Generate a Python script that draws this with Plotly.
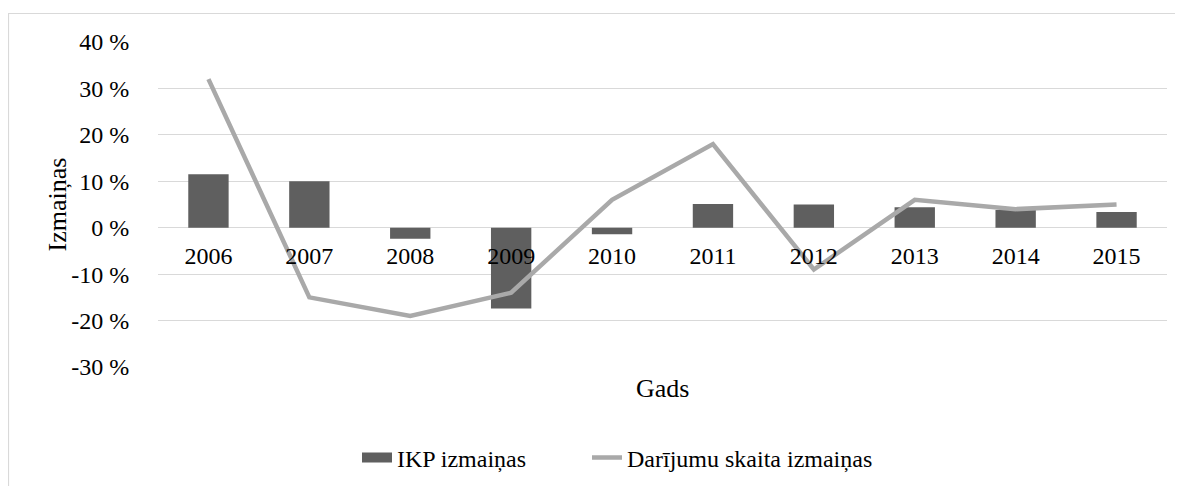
import plotly.graph_objects as go

years = ["2006", "2007", "2008", "2009", "2010", "2011", "2012", "2013", "2014", "2015"]
ikp_change = [11.5, 10.0, -2.4, -17.4, -1.4, 5.1, 5.0, 4.4, 3.8, 3.4]
deals_change = [32, -15, -19, -14, 6, 18, -9, 6, 4, 5]
y_tickvals = [-30, -20, -10, 0, 10, 20, 30, 40]
y_ticktext = ["-30 %", "-20 %", "-10 %", "0 %", "10 %", "20 %", "30 %", "40 %"]

FONT = "Liberation Serif"
BAR_COLOR = "#5f5f5f"
LINE_COLOR = "#a9a9a9"

# figure geometry (page body has an 8px default margin)
W, H = 1175, 478
L, R, T, B = 150, 16, 34, 119
PW, PH = W - L - R, H - T - B


def px(x):
    return (x - L) / PW


def py(y):
    return (H - B - y) / PH


fig = go.Figure()
fig.add_trace(go.Bar(
    x=years, y=ikp_change, name="IKP izmaiņas", showlegend=False,
    marker=dict(color=BAR_COLOR, line=dict(width=0)),
))
fig.add_trace(go.Scatter(
    x=years, y=deals_change, name="Darījumu skaita izmaiņas", showlegend=False,
    mode="lines", line=dict(color=LINE_COLOR, width=4.5),
))
# legend entries
fig.add_trace(go.Scatter(
    x=[None], y=[None], name="IKP izmaiņas", mode="lines",
    line=dict(color=BAR_COLOR, width=11), legend="legend",
))
fig.add_trace(go.Scatter(
    x=[None], y=[None], name="Darījumu skaita izmaiņas", mode="lines",
    line=dict(color=LINE_COLOR, width=4.5), legend="legend2",
))

legend_common = dict(orientation="h", yanchor="middle", xanchor="left",
                     font=dict(family=FONT, size=24), bgcolor="rgba(0,0,0,0)",
                     borderwidth=0)

fig.update_layout(
    width=W, height=H,
    margin=dict(l=L, r=R, t=T, b=B, autoexpand=False),
    paper_bgcolor="white", plot_bgcolor="white",
    font=dict(family=FONT, size=24, color="#000000"),
    bargap=0.6,
    showlegend=True,
    legend=dict(x=px(349), y=py(450), **legend_common),
    legend2=dict(x=px(579), y=py(450), **legend_common),
    xaxis=dict(
        type="category", range=[-0.5, 9.5], automargin=False,
        anchor="free", position=30/70,
        showgrid=False, showline=False, zeroline=False,
        ticks="outside", ticklen=6, tickcolor="rgba(0,0,0,0)",
        tickfont=dict(family=FONT, size=24),
    ),
    yaxis=dict(
        range=[-30, 40], tickvals=y_tickvals, ticktext=y_ticktext, automargin=False,
        showgrid=True, gridcolor="#d9d9d9", gridwidth=1.2,
        zeroline=True, zerolinecolor="#d9d9d9", zerolinewidth=1.2,
        showline=False,
        ticks="outside", ticklen=23, tickcolor="rgba(0,0,0,0)",
        tickfont=dict(family=FONT, size=24),
    ),
    annotations=[
        dict(text="Gads", xref="paper", yref="paper", x=0.5, y=py(380.5),
             xanchor="center", yanchor="middle", showarrow=False,
             font=dict(family=FONT, size=26)),
        dict(text="Izmaiņas", xref="paper", yref="paper", x=px(49), y=0.5,
             xanchor="center", yanchor="middle", showarrow=False, textangle=-90,
             font=dict(family=FONT, size=26)),
    ],
    shapes=[dict(
        type="rect", xref="paper", yref="paper",
        x0=px(0.5), x1=px(W + 20),
        y0=py(H + 20), y1=py(5.5),
        line=dict(color="#d9d9d9", width=1.2), fillcolor="rgba(0,0,0,0)", layer="below",
    )],
)

fig.write_html("out.html")
